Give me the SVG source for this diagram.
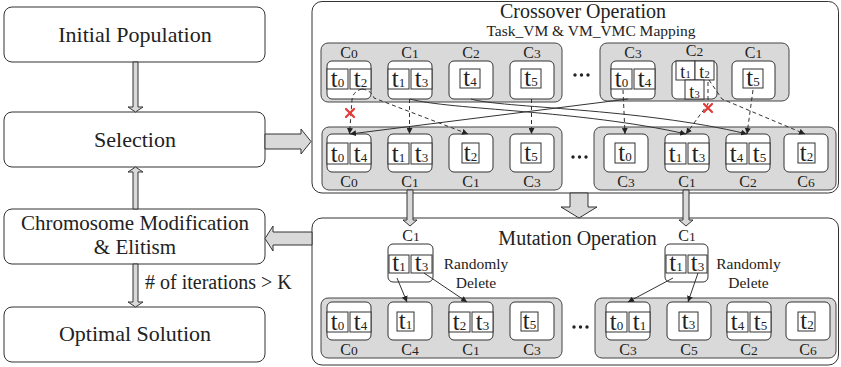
<svg xmlns="http://www.w3.org/2000/svg" width="841" height="367" viewBox="0 0 841 367">
<style>
text{font-family:"Liberation Serif","Times New Roman",serif;fill:#222}
.big{font-size:22px;text-anchor:middle}
.big2{font-size:21px;text-anchor:middle}
.title{font-size:20px;text-anchor:middle}
.sub{font-size:15.5px;text-anchor:middle}
.note{font-size:15.5px;text-anchor:middle}
.lbl{font-size:16px;text-anchor:middle}
.lbl tspan{font-size:13.5px}
.tl{font-size:25px;text-anchor:middle}
.tl tspan{font-size:13px}
.ts{font-size:18px;text-anchor:middle}
.ts tspan{font-size:10.5px}
.frame{fill:#fff;stroke:#333;stroke-width:1}
.grp{fill:#d9d9d9;stroke:#444;stroke-width:1}
.box{fill:#fff;stroke:#333;stroke-width:1}
.task{fill:#fff;stroke:#333;stroke-width:1}
.hollow{fill:#d9d9d9;stroke:#333;stroke-width:1}
.dash{fill:none;stroke:#333;stroke-width:1;stroke-dasharray:4 3}
.solid{fill:none;stroke:#333;stroke-width:1}
.x{stroke:#e53935;stroke-width:2.2;stroke-linecap:round}
.dot{fill:#222}
</style>
<defs>
<marker id="ah" viewBox="0 0 6 6" refX="6" refY="3" markerWidth="6" markerHeight="6" orient="auto" markerUnits="userSpaceOnUse"><path d="M0,0 L6,3 L0,6 z" fill="#222"/></marker>
</defs>

<!-- left flow -->
<g id="initial"><rect class="frame" x="4" y="7" width="261" height="55" rx="8"/><text class="big" x="135" y="42">Initial Population</text></g>
<g id="selection"><rect class="frame" x="4" y="112" width="261" height="55" rx="8"/><text class="big" x="135" y="147">Selection</text></g>
<g id="modification"><rect class="frame" x="4" y="209" width="261" height="55" rx="8"/><text class="big2" x="135" y="230">Chromosome Modification</text><text class="big2" x="135" y="254">&amp; Elitism</text></g>
<g id="optimal"><rect class="frame" x="4" y="307" width="261" height="55" rx="8"/><text class="big" x="135" y="341">Optimal Solution</text></g>

<!-- crossover frame -->
<g id="crossover">
<rect class="frame" x="312" y="1.5" width="526.5" height="191.5" rx="10"/>
<text class="title" x="583" y="18">Crossover Operation</text>
<text class="sub" x="591" y="36">Task_VM &amp; VM_VMC Mapping</text>
<rect class="grp" x="321" y="43" width="241" height="59" rx="7"/>
<rect class="grp" x="600" y="43" width="189" height="58" rx="7"/>
<rect class="grp" x="322" y="127" width="240" height="63" rx="7"/>
<rect class="grp" x="594" y="127" width="242" height="63" rx="7"/>
<circle class="dot" cx="575" cy="75" r="1.7"/><circle class="dot" cx="581.5" cy="75" r="1.7"/><circle class="dot" cx="588" cy="75" r="1.7"/>
<circle class="dot" cx="573" cy="157" r="1.7"/><circle class="dot" cx="579.5" cy="157" r="1.7"/><circle class="dot" cx="586" cy="157" r="1.7"/>
</g>

<!-- mutation frame -->
<g id="mutation">
<rect class="frame" x="312" y="218" width="526.5" height="147" rx="10"/>
<text class="title" x="577.5" y="245">Mutation Operation</text>
<rect class="grp" x="321" y="298" width="241" height="60" rx="7"/>
<rect class="grp" x="595" y="298" width="241" height="60" rx="7"/>
<circle class="dot" cx="574" cy="327" r="1.7"/><circle class="dot" cx="580.5" cy="327" r="1.7"/><circle class="dot" cx="587" cy="327" r="1.7"/>
<text class="note" x="476" y="269">Randomly</text><text class="note" x="476" y="288">Delete</text>
<text class="note" x="748.5" y="269">Randomly</text><text class="note" x="748.5" y="288">Delete</text>
</g>

<!-- parent 1 -->
<g id="p1c0"><text class="lbl" x="349" y="58">C<tspan>0</tspan></text><rect class="box" x="327" y="61" width="44" height="38" rx="5"/><rect class="task" x="327" y="69" width="21" height="20"/><rect class="task" x="350" y="69" width="21" height="20"/><text class="tl" x="337.5" y="87">t<tspan>0</tspan></text><text class="tl" x="360.5" y="87">t<tspan>2</tspan></text></g>
<g id="p1c1"><text class="lbl" x="410" y="58">C<tspan>1</tspan></text><rect class="box" x="388" y="61" width="44" height="38" rx="5"/><rect class="task" x="388" y="69" width="21" height="20"/><rect class="task" x="411" y="69" width="21" height="20"/><text class="tl" x="398.5" y="87">t<tspan>1</tspan></text><text class="tl" x="421.5" y="87">t<tspan>3</tspan></text></g>
<g id="p1c2"><text class="lbl" x="471" y="58">C<tspan>2</tspan></text><rect class="box" x="449" y="61" width="44" height="38" rx="5"/><rect class="task" x="460" y="69" width="20" height="19"/><text class="tl" x="470" y="86">t<tspan>4</tspan></text></g>
<g id="p1c3"><text class="lbl" x="532" y="58">C<tspan>3</tspan></text><rect class="box" x="510" y="61" width="44" height="38" rx="5"/><rect class="task" x="521" y="69" width="20" height="19"/><text class="tl" x="531" y="86">t<tspan>5</tspan></text></g>

<!-- parent 2 -->
<g id="p2c3"><text class="lbl" x="633" y="58">C<tspan>3</tspan></text><rect class="box" x="611" y="61" width="44" height="38" rx="5"/><rect class="task" x="611" y="69" width="21" height="20"/><rect class="task" x="634" y="69" width="21" height="20"/><text class="tl" x="621.5" y="87">t<tspan>0</tspan></text><text class="tl" x="644.5" y="87">t<tspan>4</tspan></text></g>
<g id="p2c2"><text class="lbl" x="694.5" y="56">C<tspan>2</tspan></text><rect class="box" x="672" y="61" width="45" height="38" rx="5"/><rect class="task" x="676" y="61" width="19" height="19"/><rect class="task" x="695" y="61" width="19" height="19"/><rect class="task" x="685" y="80" width="19" height="19"/><text class="ts" x="685.5" y="77.5">t<tspan>1</tspan></text><text class="ts" x="704.5" y="77.5">t<tspan>2</tspan></text><text class="ts" x="694.5" y="97.5">t<tspan>3</tspan></text></g>
<g id="p2c1"><text class="lbl" x="753.5" y="58">C<tspan>1</tspan></text><rect class="box" x="732" y="61" width="43" height="38" rx="5"/><rect class="task" x="743" y="69" width="20" height="19"/><text class="tl" x="753" y="86">t<tspan>5</tspan></text></g>

<!-- offspring 1 -->
<g id="o1c0"><rect class="box" x="327" y="134" width="44" height="38" rx="5"/><rect class="task" x="327" y="143" width="21" height="21"/><rect class="task" x="350" y="143" width="21" height="21"/><text class="tl" x="337.5" y="162">t<tspan>0</tspan></text><text class="tl" x="360.5" y="162">t<tspan>4</tspan></text><text class="lbl" x="349" y="187">C<tspan>0</tspan></text></g>
<g id="o1c1"><rect class="box" x="388" y="134" width="44" height="38" rx="5"/><rect class="task" x="388" y="143" width="21" height="21"/><rect class="task" x="411" y="143" width="21" height="21"/><text class="tl" x="398.5" y="162">t<tspan>1</tspan></text><text class="tl" x="421.5" y="162">t<tspan>3</tspan></text><text class="lbl" x="410" y="187">C<tspan>1</tspan></text></g>
<g id="o1c1b"><rect class="box" x="449" y="134" width="44" height="38" rx="5"/><rect class="task" x="462" y="143" width="17" height="20"/><text class="tl" x="470.5" y="161">t<tspan>2</tspan></text><text class="lbl" x="471" y="187">C<tspan>1</tspan></text></g>
<g id="o1c3"><rect class="box" x="510" y="134" width="44" height="38" rx="5"/><rect class="task" x="521" y="143" width="20" height="20"/><text class="tl" x="531" y="161">t<tspan>5</tspan></text><text class="lbl" x="532" y="187">C<tspan>3</tspan></text></g>

<!-- offspring 2 -->
<g id="o2c3"><rect class="box" x="604" y="134" width="44" height="38" rx="5"/><rect class="task" x="615" y="143" width="20" height="20"/><text class="tl" x="625" y="161">t<tspan>0</tspan></text><text class="lbl" x="626" y="187">C<tspan>3</tspan></text></g>
<g id="o2c1"><rect class="box" x="665" y="134" width="44" height="38" rx="5"/><rect class="task" x="665" y="143" width="21" height="21"/><rect class="task" x="688" y="143" width="21" height="21"/><text class="tl" x="675.5" y="162">t<tspan>1</tspan></text><text class="tl" x="698.5" y="162">t<tspan>3</tspan></text><text class="lbl" x="687" y="187">C<tspan>1</tspan></text></g>
<g id="o2c2"><rect class="box" x="726" y="134" width="44" height="38" rx="5"/><rect class="task" x="726" y="143" width="21" height="21"/><rect class="task" x="749" y="143" width="21" height="21"/><text class="tl" x="736.5" y="162">t<tspan>4</tspan></text><text class="tl" x="759.5" y="162">t<tspan>5</tspan></text><text class="lbl" x="748" y="187">C<tspan>2</tspan></text></g>
<g id="o2c6"><rect class="box" x="784" y="134" width="44" height="38" rx="5"/><rect class="task" x="798" y="143" width="17" height="20"/><text class="tl" x="806.5" y="161">t<tspan>2</tspan></text><text class="lbl" x="806" y="187">C<tspan>6</tspan></text></g>

<!-- mutation inputs -->
<g id="m1in"><text class="lbl" x="411" y="241">C<tspan>1</tspan></text><rect class="box" x="388" y="244" width="45" height="38" rx="5"/><rect class="task" x="389" y="255" width="20" height="18"/><rect class="task" x="411" y="255" width="21" height="18"/><text class="tl" x="399" y="271">t<tspan>1</tspan></text><text class="tl" x="421.5" y="271">t<tspan>3</tspan></text></g>
<g id="m2in"><text class="lbl" x="687" y="241">C<tspan>1</tspan></text><rect class="box" x="665" y="244" width="43" height="38" rx="5"/><rect class="task" x="666" y="255" width="20" height="18"/><rect class="task" x="688" y="255" width="19" height="18"/><text class="tl" x="676" y="271">t<tspan>1</tspan></text><text class="tl" x="697.5" y="271">t<tspan>3</tspan></text></g>

<!-- mutation outputs left -->
<g id="mlc0"><rect class="box" x="327" y="302" width="44" height="38" rx="5"/><rect class="task" x="327" y="312" width="21" height="20"/><rect class="task" x="350" y="312" width="21" height="20"/><text class="tl" x="337.5" y="330">t<tspan>0</tspan></text><text class="tl" x="360.5" y="330">t<tspan>4</tspan></text><text class="lbl" x="349" y="355">C<tspan>0</tspan></text></g>
<g id="mlc4"><rect class="box" x="388" y="302" width="44" height="38" rx="5"/><rect class="task" x="397" y="312" width="17" height="19"/><text class="tl" x="405.5" y="329">t<tspan>1</tspan></text><text class="lbl" x="410" y="355">C<tspan>4</tspan></text></g>
<g id="mlc1"><rect class="box" x="449" y="302" width="44" height="38" rx="5"/><rect class="task" x="449" y="312" width="21" height="20"/><rect class="task" x="472" y="312" width="21" height="20"/><text class="tl" x="459.5" y="330">t<tspan>2</tspan></text><text class="tl" x="482.5" y="330">t<tspan>3</tspan></text><text class="lbl" x="471" y="355">C<tspan>1</tspan></text></g>
<g id="mlc3"><rect class="box" x="510" y="302" width="44" height="38" rx="5"/><rect class="task" x="521" y="312" width="17" height="19"/><text class="tl" x="529.5" y="329">t<tspan>5</tspan></text><text class="lbl" x="532" y="355">C<tspan>3</tspan></text></g>

<!-- mutation outputs right -->
<g id="mrc3"><rect class="box" x="606" y="302" width="44" height="38" rx="5"/><rect class="task" x="606" y="312" width="21" height="20"/><rect class="task" x="629" y="312" width="21" height="20"/><text class="tl" x="616.5" y="330">t<tspan>0</tspan></text><text class="tl" x="639.5" y="330">t<tspan>1</tspan></text><text class="lbl" x="628" y="355">C<tspan>3</tspan></text></g>
<g id="mrc5"><rect class="box" x="667" y="302" width="44" height="38" rx="5"/><rect class="task" x="679" y="312" width="19" height="19"/><text class="tl" x="688.5" y="329">t<tspan>3</tspan></text><text class="lbl" x="689" y="355">C<tspan>5</tspan></text></g>
<g id="mrc2"><rect class="box" x="727" y="302" width="44" height="38" rx="5"/><rect class="task" x="727" y="312" width="21" height="20"/><rect class="task" x="750" y="312" width="21" height="20"/><text class="tl" x="737.5" y="330">t<tspan>4</tspan></text><text class="tl" x="760.5" y="330">t<tspan>5</tspan></text><text class="lbl" x="749" y="355">C<tspan>2</tspan></text></g>
<g id="mrc6"><rect class="box" x="786" y="302" width="44" height="38" rx="5"/><rect class="task" x="798" y="312" width="17" height="19"/><text class="tl" x="807" y="329">t<tspan>2</tspan></text><text class="lbl" x="808" y="355">C<tspan>6</tspan></text></g>

<!-- connectors -->
<g id="connectors">
<polygon class="hollow" points="133,62 138,62 138,107 143,107 135.5,112 128,107 133,107"/>
<polygon class="hollow" points="133,209 138,209 138,172 143,172 135.5,167 128,172 133,172"/>
<polygon class="hollow" points="133,264 138,264 138,302 143,302 135.5,307 128,302 133,302"/>
<polygon class="hollow" points="265,134 301,134 301,129 311,141.5 301,154 301,149 265,149"/>
<polygon class="hollow" points="312,232 273,232 273,226 265,238.5 273,251 273,245 312,245"/>
<polygon class="hollow" points="570,193 588,193 588,207 597,207 579,218 561,207 570,207"/>
<polygon class="hollow" points="407,190 413,190 413,220 417,220 410,226 403,220 407,220"/>
<polygon class="hollow" points="683,190 689,190 689,220 693,220 686,226 679,220 683,220"/>
<text x="145" y="289" style="font-size:20px"># of iterations &gt; K</text>

<path class="dash" d="M362,89 Q353,91 352,100 L349.5,134" marker-end="url(#ah)"/>
<path class="dash" d="M362,89 Q371,90 374,98 L468,134" marker-end="url(#ah)"/>
<path class="dash" d="M409.5,99 L409.5,134" marker-end="url(#ah)"/>
<path class="dash" d="M531.5,99 L531.5,134" marker-end="url(#ah)"/>
<path class="dash" d="M623,90 L625,134" marker-end="url(#ah)"/>
<path class="dash" d="M708,82 L708,104 L686,134" marker-end="url(#ah)"/>
<path class="dash" d="M709,80 L722,99 L805,134" marker-end="url(#ah)"/>
<path class="dash" d="M753,90 L747,134" marker-end="url(#ah)"/>
<path class="solid" d="M410,99 C450,110 580,110 686,134" marker-end="url(#ah)"/>
<path class="solid" d="M471,99 C500,108 640,108 747,134" marker-end="url(#ah)"/>
<path class="solid" d="M628,99 L350,134" marker-end="url(#ah)"/>
<path class="x" d="M346,109 L354,117 M354,109 L346,117"/>
<path class="x" d="M704,104 L712,112 M712,104 L704,112"/>

<path class="solid" d="M397,278 L407,302" marker-end="url(#ah)"/>
<path class="solid" d="M424,273 L467,302" marker-end="url(#ah)"/>
<path class="solid" d="M673,278 L628,302" marker-end="url(#ah)"/>
<path class="solid" d="M698,273 L688,302" marker-end="url(#ah)"/>
</g>
</svg>
